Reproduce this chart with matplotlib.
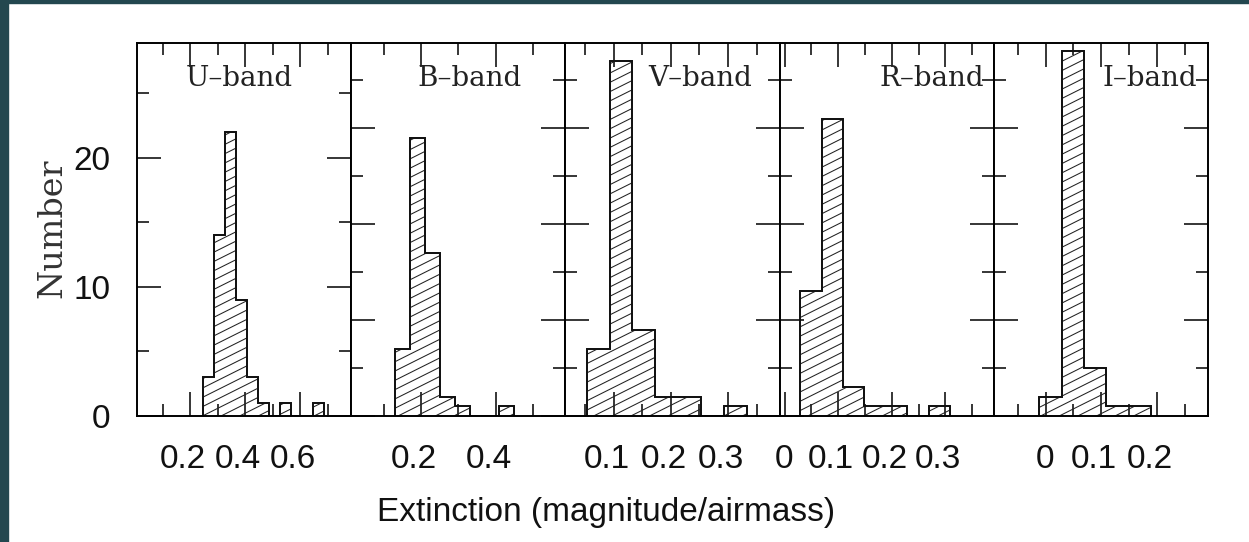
import numpy as np
import matplotlib
matplotlib.use("Agg")
import matplotlib.pyplot as plt
import matplotlib.transforms as mtransforms
from matplotlib.lines import Line2D
from matplotlib.patches import Rectangle
from matplotlib.ticker import MultipleLocator, FixedLocator

# ---------------- data ----------------
band_labels = ["U–band", "B–band", "V–band", "R–band", "I–band"]
bin_width = 0.04

u_start = 0.245
u_counts = [3, 14, 22, 9, 3, 1, 0, 1, 0, 0, 1]
b_start = 0.13
b_counts = [7, 29, 17, 2, 1, 0, 0, 1]
v_start = 0.053
v_counts = [7, 37, 9, 2, 2, 0, 1]
r_start = 0.029
r_counts = [13, 31, 3, 1, 1, 0, 1]
i_start = -0.011
i_counts = [2, 38, 5, 1, 1]

starts = [u_start, b_start, v_start, r_start, i_start]
counts_all = [u_counts, b_counts, v_counts, r_counts, i_counts]

x_limits = [(0.007, 0.785), (0.0115, 0.5875), (0.016, 0.390),
            (-0.0094, 0.3906), (-0.093, 0.292)]
y_limits = [(0, 28.9), (0, 38.9), (0, 38.9), (0, 38.9), (0, 38.9)]
x_major_ticks = [[0.2, 0.4, 0.6], [0.2, 0.4], [0.1, 0.2, 0.3],
                 [0.0, 0.1, 0.2, 0.3], [0.0, 0.1, 0.2]]
x_minor_step = [0.1, 0.1, 0.05, 0.05, 0.05]
y_tick_values = [0, 10, 20]
label_xfrac = [0.477, 0.551, 0.63, 0.71, 0.73]

# ---------------- figure ----------------
W_PX, H_PX, DPI = 1249, 542, 100
fig = plt.figure(figsize=(W_PX / DPI, H_PX / DPI), dpi=DPI)
fig.patch.set_facecolor("white")

# dark frame strips of the screenshot
fig.add_artist(Rectangle((0, 0), 8 / W_PX, 1, transform=fig.transFigure,
                         color="#23474f", zorder=0))
fig.add_artist(Rectangle((0, 1 - 3 / H_PX), 1, 3 / H_PX, transform=fig.transFigure,
                         color="#23474f", zorder=0))

left, right = 137 / W_PX, 1208 / W_PX
bottom, top = 1 - 416 / H_PX, 1 - 42.7 / H_PX
axes = fig.subplots(1, 5, gridspec_kw=dict(wspace=0))
fig.subplots_adjust(left=left, right=right, bottom=bottom, top=top, wspace=0)

ax_w_px = (right - left) / 5 * W_PX
ax_h_px = (top - bottom) * H_PX

sans = ["Liberation Sans", "DejaVu Sans"]
serif = ["DejaVu Serif"]

for k, ax in enumerate(axes):
    counts = np.array(counts_all[k], dtype=float)
    edges = starts[k] + bin_width * np.arange(len(counts) + 1)
    sp = ax.stairs(counts, edges, fill=True, facecolor="white",
                   edgecolor="#111111", linewidth=1.3, zorder=1.5)
    # custom shallow hatching clipped to histogram
    slope = 0.5
    spacing = 9.3
    xs_px = np.array([0.0, ax_w_px])
    for y0 in np.arange(-slope * ax_w_px, ax_h_px + spacing, spacing):
        ys_px = y0 + slope * xs_px
        ln = Line2D(xs_px / ax_w_px, ys_px / ax_h_px, transform=ax.transAxes,
                    color="#222222", lw=0.75, zorder=1.6)
        ax.add_line(ln)
        ln.set_clip_path(sp)
    ax.stairs(counts, edges, fill=False, edgecolor="#111111",
              linewidth=1.3, zorder=1.7)

    ax.set_xlim(*x_limits[k])
    ax.set_ylim(*y_limits[k])
    ax.xaxis.set_major_locator(FixedLocator(x_major_ticks[k]))
    ax.xaxis.set_minor_locator(MultipleLocator(x_minor_step[k]))
    ax.set_xticklabels([f"{v:g}" for v in x_major_ticks[k]])
    ax.yaxis.set_major_locator(MultipleLocator(10))
    ax.yaxis.set_minor_locator(MultipleLocator(5))

    ax.tick_params(which="both", direction="in", top=True, right=True,
                   width=1.1, color="black")
    ax.tick_params(which="major", length=17)
    ax.tick_params(which="minor", length=8.5)
    ax.tick_params(axis="x", which="major", pad=20, labelsize=24)
    for s in ax.spines.values():
        s.set_linewidth(1.4)
        s.set_color("black")
    for lab in ax.get_xticklabels():
        lab.set_fontfamily(sans)
        lab.set_color("#111111")
    for tick, v in zip(ax.xaxis.get_major_ticks(), x_major_ticks[k]):
        dx = -1 if v == 0 else -7
        off = mtransforms.ScaledTranslation(dx / DPI, 0, fig.dpi_scale_trans)
        tick.label1.set_transform(tick.label1.get_transform() + off)

    if k == 0:
        ax.yaxis.set_major_locator(FixedLocator(y_tick_values))
        ax.set_yticklabels([f"{v:g}" for v in y_tick_values])
        ax.tick_params(axis="y", which="major", pad=19, labelsize=24)
        for lab in ax.get_yticklabels():
            lab.set_fontfamily(sans)
            lab.set_color("#111111")
    else:
        ax.tick_params(axis="y", labelleft=False)

    ax.text(label_xfrac[k], 0.905, band_labels[k], transform=ax.transAxes,
            ha="center", va="center", fontsize=20, family=serif, color="#222222")

fig.text(52 / W_PX, 1 - 228 / H_PX, "Number", rotation=90, ha="center",
         va="center", fontsize=24, family=serif, color="#333333")
fig.text(606 / W_PX, 1 - 513 / H_PX, "Extinction (magnitude/airmass)",
         ha="center", va="center", fontsize=24, family=sans, color="#111111")

fig.savefig("out.png", dpi=DPI)
